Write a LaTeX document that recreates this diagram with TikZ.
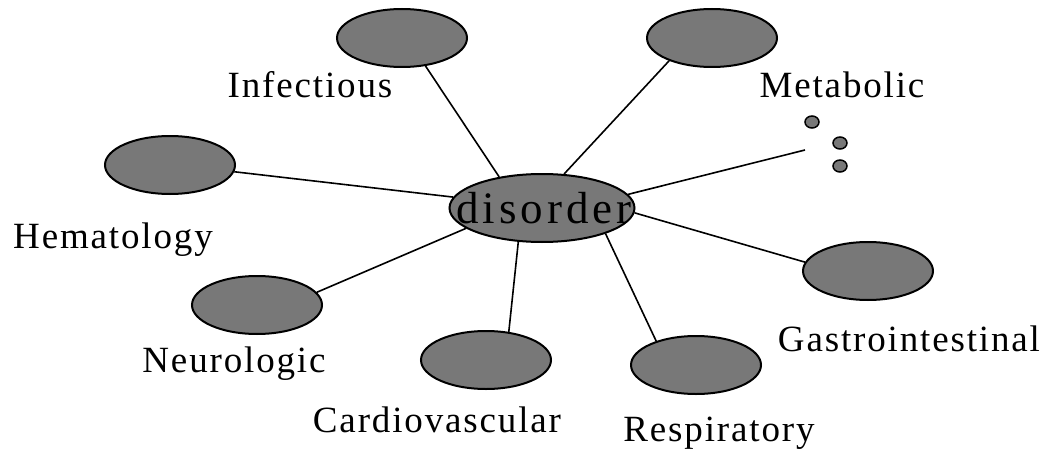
\documentclass[tikz,border=0pt]{standalone}
\usepackage{fontspec}
\setmainfont{Liberation Serif}
\newfontfamily\labelfont[LetterSpace=5]{Liberation Serif}
\newfontfamily\centerfont[LetterSpace=9]{Liberation Serif}
\usetikzlibrary{shapes.geometric}
\begin{document}
\begin{tikzpicture}[x=1pt,y=-1pt,
  blob/.style={ellipse,draw=black,line width=2pt,fill=black!53,inner sep=0pt,minimum width=130pt,minimum height=58pt},
  dot/.style={ellipse,draw=black,line width=1.5pt,fill=black!53,inner sep=0pt,minimum width=14pt,minimum height=12pt},
  lbl/.style={anchor=base,font=\labelfont\fontsize{37}{37}\selectfont,inner sep=0pt},
  link/.style={line width=1.6pt}]
\useasboundingbox (0,0) rectangle (1050,452);
% outer ellipses
\node[blob] (inf) at (402,38) {};
\node[blob] (met) at (712,38) {};
\node[blob] (hem) at (170,165) {};
\node[blob] (neu) at (257,305) {};
\node[blob] (car) at (486,360) {};
\node[blob] (res) at (696,365) {};
\node[blob] (gas) at (868,271) {};
% centre ellipse
\node[blob,minimum width=185pt,minimum height=68pt] (dis) at (542,208) {};
% dots
\node[dot] (d1) at (812,122) {};
\node[dot] (d2) at (840,143) {};
\node[dot] (d3) at (840,166) {};
\coordinate (dotend) at (805,150);
% links
\draw[link] (dis.144) -- (inf.-50);
\draw[link] (dis.57) -- (met.208);
\draw[link] (dis.173) -- (hem.-6);
\draw[link] (dis.195) -- (neu.12);
\draw[link] (dis.235) -- (car.51);
\draw[link] (dis.-22) -- (res.149);
\draw[link] (dis.-3) -- (gas.172);
\draw[link] (dis.9) -- (dotend);
% labels
\node[lbl] (tinf) at (310,98) {Infectious};
\node[lbl] (tmet) at (842,97) {Metabolic};
\node[lbl] (them) at (113,248) {Hematology};
\node[lbl] (tneu) at (234,372) {Neurologic};
\node[lbl] (tcar) at (437,432) {Cardiovascular};
\node[lbl] (tres) at (719,441) {Respiratory};
\node[lbl] (tgas) at (909,351) {Gastrointestinal};
\node[anchor=base,inner sep=0pt,font=\centerfont\fontsize{45}{45}\selectfont] (tdis) at (544,223) {disorder};
\end{tikzpicture}
\end{document}
